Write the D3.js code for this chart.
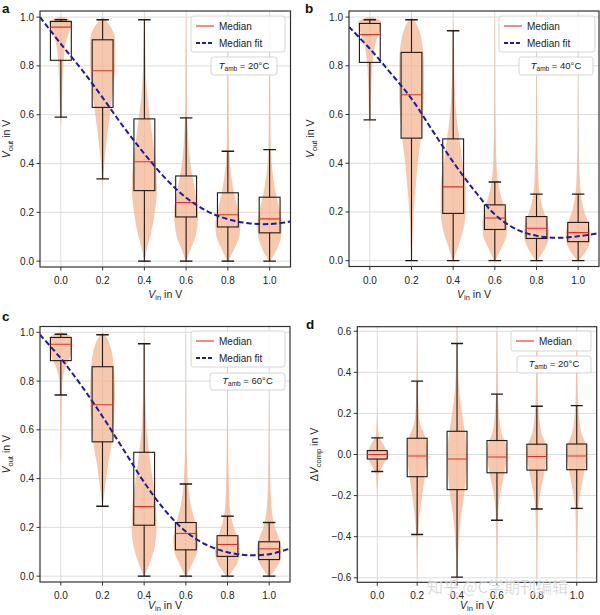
<!DOCTYPE html>
<html>
<head>
<meta charset="utf-8">
<script src="https://cdn.jsdelivr.net/npm/d3@7"></script>
<style>
  html, body { margin: 0; padding: 0; background: #fff; }
  svg { display: block; font-family: "Liberation Sans", Arial, Helvetica, sans-serif; }
</style>
</head>
<body>
<svg id="chart" width="600" height="615"></svg>
<script>
// ---------------- DATA ----------------
const categories = [0.0, 0.2, 0.4, 0.6, 0.8, 1.0];
const xTickLabels = ["0.0", "0.2", "0.4", "0.6", "0.8", "1.0"];
const yTicksVout = [0.0, 0.2, 0.4, 0.6, 0.8, 1.0];
const yTicksComp = [-0.6, -0.4, -0.2, 0.0, 0.2, 0.4, 0.6];
const panelLetters = ["a", "b", "c", "d"];
const panelTemps = ["20°C", "40°C", "60°C", "20°C"];
const legendLabels = ["Median", "Median fit"];

// box stats: [whisker low, q1, median, q3, whisker high]
const boxA = [[0.59, 0.823, 0.959, 0.982, 0.989], [0.337, 0.630, 0.780, 0.907, 0.989], [0.0, 0.289, 0.407, 0.583, 0.989],
              [0.0, 0.181, 0.240, 0.349, 0.587], [0.0, 0.140, 0.190, 0.280, 0.450], [0.0, 0.116, 0.173, 0.262, 0.457]];
const boxB = [[0.578, 0.814, 0.928, 0.974, 0.989], [0.0, 0.503, 0.681, 0.855, 0.989], [0.0, 0.194, 0.303, 0.500, 0.944],
              [0.0, 0.128, 0.175, 0.229, 0.323], [0.0, 0.091, 0.133, 0.181, 0.273], [0.0, 0.078, 0.115, 0.157, 0.273]];
const boxC = [[0.743, 0.884, 0.951, 0.979, 0.992], [0.287, 0.551, 0.703, 0.859, 0.990], [0.0, 0.209, 0.285, 0.508, 0.953],
              [0.0, 0.108, 0.175, 0.220, 0.378], [0.0, 0.081, 0.130, 0.166, 0.246], [0.0, 0.068, 0.112, 0.141, 0.220]];
const boxD = [[-0.083, -0.022, 0.0, 0.019, 0.081], [-0.389, -0.108, -0.007, 0.079, 0.357], [-0.597, -0.171, -0.022, 0.113, 0.540],
              [-0.320, -0.089, -0.012, 0.068, 0.294], [-0.265, -0.076, -0.010, 0.050, 0.235], [-0.262, -0.074, -0.007, 0.051, 0.238]];

// violin profiles: [value, half-width in x units]
const violinA = [
  [[0.55, 0.0], [0.6, 0.004], [0.7, 0.007], [0.8, 0.012], [0.9, 0.025], [0.95, 0.045], [0.98, 0.055], [1.0, 0.01]],
  [[0.30, 0.0], [0.4, 0.008], [0.5, 0.02], [0.6, 0.035], [0.7, 0.05], [0.8, 0.06], [0.9, 0.06], [0.95, 0.045], [0.99, 0.012], [1.0, 0.0]],
  [[0.0, 0.002], [0.05, 0.012], [0.1, 0.028], [0.2, 0.05], [0.3, 0.06], [0.4, 0.055], [0.5, 0.04], [0.6, 0.025], [0.7, 0.012], [0.8, 0.006], [0.9, 0.004], [1.0, 0.001]],
  [[0.0, 0.002], [0.05, 0.022], [0.1, 0.045], [0.2, 0.058], [0.3, 0.04], [0.4, 0.02], [0.5, 0.01], [0.6, 0.005], [0.8, 0.003], [1.0, 0.001]],
  [[0.0, 0.003], [0.05, 0.03], [0.1, 0.055], [0.15, 0.06], [0.2, 0.05], [0.3, 0.025], [0.4, 0.01], [0.5, 0.005], [0.7, 0.003], [0.97, 0.001]],
  [[0.0, 0.003], [0.05, 0.035], [0.1, 0.055], [0.15, 0.06], [0.2, 0.05], [0.3, 0.025], [0.4, 0.01], [0.5, 0.005], [0.7, 0.003], [0.97, 0.001]]
];
const violinB = [
  [[0.5, 0.0], [0.6, 0.004], [0.7, 0.007], [0.8, 0.012], [0.9, 0.03], [0.95, 0.05], [0.98, 0.055], [1.0, 0.01]],
  [[0.0, 0.002], [0.1, 0.005], [0.2, 0.01], [0.3, 0.02], [0.4, 0.03], [0.5, 0.045], [0.6, 0.055], [0.7, 0.06], [0.8, 0.06], [0.9, 0.05], [0.95, 0.035], [0.99, 0.01], [1.0, 0.0]],
  [[0.0, 0.003], [0.05, 0.02], [0.1, 0.04], [0.2, 0.06], [0.3, 0.06], [0.4, 0.045], [0.5, 0.03], [0.6, 0.015], [0.7, 0.008], [0.8, 0.005], [0.9, 0.003], [0.99, 0.001]],
  [[0.0, 0.003], [0.05, 0.03], [0.1, 0.055], [0.15, 0.06], [0.2, 0.05], [0.3, 0.02], [0.4, 0.008], [0.6, 0.003], [0.99, 0.001]],
  [[0.0, 0.004], [0.05, 0.04], [0.1, 0.06], [0.15, 0.055], [0.2, 0.035], [0.3, 0.012], [0.5, 0.004], [0.7, 0.002], [0.99, 0.0]],
  [[0.0, 0.004], [0.05, 0.045], [0.1, 0.06], [0.15, 0.05], [0.2, 0.03], [0.3, 0.01], [0.5, 0.003], [0.99, 0.0]]
];
const violinC = [
  [[0.45, 0.0], [0.5, 0.002], [0.7, 0.004], [0.8, 0.008], [0.85, 0.02], [0.9, 0.045], [0.95, 0.055], [0.98, 0.05], [1.0, 0.008]],
  [[0.28, 0.0], [0.35, 0.01], [0.45, 0.025], [0.55, 0.045], [0.65, 0.055], [0.75, 0.06], [0.85, 0.055], [0.95, 0.035], [0.99, 0.01], [1.0, 0.0]],
  [[0.0, 0.003], [0.05, 0.025], [0.1, 0.045], [0.2, 0.06], [0.3, 0.055], [0.4, 0.04], [0.5, 0.025], [0.6, 0.012], [0.7, 0.007], [0.8, 0.004], [0.9, 0.003], [0.98, 0.001]],
  [[0.0, 0.003], [0.05, 0.03], [0.1, 0.055], [0.15, 0.06], [0.2, 0.05], [0.3, 0.022], [0.4, 0.009], [0.6, 0.003], [0.99, 0.001]],
  [[0.0, 0.004], [0.05, 0.045], [0.1, 0.06], [0.15, 0.05], [0.2, 0.03], [0.3, 0.01], [0.5, 0.004], [0.7, 0.002], [0.99, 0.0]],
  [[0.0, 0.004], [0.05, 0.045], [0.1, 0.06], [0.15, 0.05], [0.2, 0.028], [0.3, 0.01], [0.5, 0.003], [0.99, 0.0]]
];
const violinD = [
  [[-0.25, 0.0], [-0.1, 0.006], [-0.05, 0.03], [0.0, 0.052], [0.05, 0.03], [0.1, 0.006], [0.25, 0.0]],
  [[-0.6, 0.001], [-0.4, 0.005], [-0.3, 0.012], [-0.2, 0.025], [-0.1, 0.04], [0.0, 0.05], [0.05, 0.05], [0.1, 0.035], [0.15, 0.015], [0.25, 0.006], [0.4, 0.003], [0.6, 0.001]],
  [[-0.62, 0.002], [-0.4, 0.01], [-0.3, 0.02], [-0.2, 0.035], [-0.1, 0.045], [0.0, 0.05], [0.1, 0.04], [0.2, 0.025], [0.3, 0.012], [0.4, 0.006], [0.62, 0.002]],
  [[-0.6, 0.002], [-0.3, 0.006], [-0.2, 0.015], [-0.1, 0.035], [0.0, 0.05], [0.05, 0.045], [0.1, 0.025], [0.2, 0.01], [0.3, 0.005], [0.6, 0.002]],
  [[-0.6, 0.002], [-0.3, 0.006], [-0.2, 0.015], [-0.1, 0.035], [0.0, 0.05], [0.05, 0.045], [0.1, 0.025], [0.2, 0.01], [0.3, 0.005], [0.6, 0.002]],
  [[-0.6, 0.002], [-0.3, 0.006], [-0.2, 0.015], [-0.1, 0.035], [0.0, 0.05], [0.05, 0.045], [0.1, 0.025], [0.2, 0.01], [0.3, 0.005], [0.6, 0.002]]
];

// median fit curves
const fitX = [-0.1, 0.0, 0.1, 0.2, 0.3, 0.4, 0.5, 0.6, 0.7, 0.8, 0.9, 1.0, 1.1];
const fitA = [1.0, 0.89, 0.785, 0.67, 0.55, 0.44, 0.34, 0.26, 0.205, 0.172, 0.155, 0.152, 0.162];
const fitB = [0.96, 0.87, 0.77, 0.665, 0.535, 0.405, 0.29, 0.19, 0.13, 0.102, 0.094, 0.10, 0.113];
const fitC = [0.99, 0.893, 0.78, 0.655, 0.52, 0.385, 0.27, 0.183, 0.128, 0.098, 0.086, 0.09, 0.113];

// ---------------- DRAW ----------------
const svg = d3.select("#chart");
const violinColor = "#f2b48f";
const boxColor = "#231812";
const medianColor = "#e0302a";
const fitColor = "#1c1c9c";
const gridColor = "#dcdcdc";
const fmt = v => d3.format(".1f")(v).replace("-", "\u2212");

const panels = [
  { box: boxA, vio: violinA, fit: fitA, left: 40, right: 290.5, top: 11, bottom: 267, ydom: [-0.024, 1.025], yt: yTicksVout, ylab: "out",
    letter: [2, 12.5], legend: [191, 16, 94, 36], tamb: [211, 57, 66, 18], xlY: 298, ylX: 10 },
  { box: boxB, vio: violinB, fit: fitB, left: 349, right: 599, top: 11, bottom: 266.5, ydom: [-0.024, 1.025], yt: yTicksVout, ylab: "out",
    letter: [305, 12.5], legend: [499, 16, 96, 36], tamb: [519, 57, 74, 18], xlY: 298, ylX: 314 },
  { box: boxC, vio: violinC, fit: fitC, left: 40, right: 290, top: 326.5, bottom: 582, ydom: [-0.024, 1.024], yt: yTicksVout, ylab: "out",
    letter: [2, 321], legend: [191, 331, 94, 36], tamb: [210, 373, 75, 17], xlY: 609, ylX: 10 },
  { box: boxD, vio: violinD, fit: null, left: 357.3, right: 596.7, top: 326.7, bottom: 582.3, ydom: [-0.622, 0.622], yt: yTicksComp, ylab: "comp",
    letter: [306, 329], legend: [511, 331, 80, 20], tamb: [517, 356, 74, 17], xlY: 609, ylX: 318 }
];

panels.forEach((p, i) => {
  const g = svg.append("g");
  const x = d3.scaleLinear().domain([-0.1, 1.1]).range([p.left, p.right]);
  const y = d3.scaleLinear().domain(p.ydom).range([p.bottom, p.top]);
  const clipId = "clip" + i;
  svg.append("clipPath").attr("id", clipId).append("rect")
    .attr("x", p.left).attr("y", p.top).attr("width", p.right - p.left).attr("height", p.bottom - p.top);

  // grid
  const grid = g.append("g").attr("stroke", gridColor).attr("stroke-width", 1);
  categories.forEach(c => grid.append("line").attr("x1", x(c)).attr("x2", x(c)).attr("y1", p.top).attr("y2", p.bottom));
  p.yt.forEach(t => grid.append("line").attr("x1", p.left).attr("x2", p.right).attr("y1", y(t)).attr("y2", y(t)));

  const plot = g.append("g").attr("clip-path", `url(#${clipId})`);

  // violins
  categories.forEach((c, j) => {
    const area = d3.area()
      .y(d => y(d[0]))
      .x0(d => x(c - d[1]))
      .x1(d => x(c + d[1]))
      .curve(d3.curveMonotoneY);
    plot.append("path").attr("d", area(p.vio[j]))
      .attr("fill", violinColor).attr("fill-opacity", 0.72).attr("stroke", "none");
  });

  // boxes
  const bw = 0.1, cw = 0.06;
  categories.forEach((c, j) => {
    const [lo, q1, med, q3, hi] = p.box[j];
    const bg = plot.append("g").attr("stroke", boxColor).attr("stroke-width", 1.1).attr("fill", "none");
    bg.append("line").attr("x1", x(c)).attr("x2", x(c)).attr("y1", y(q1)).attr("y2", y(lo));
    bg.append("line").attr("x1", x(c)).attr("x2", x(c)).attr("y1", y(q3)).attr("y2", y(hi));
    bg.append("line").attr("x1", x(c - cw / 2)).attr("x2", x(c + cw / 2)).attr("y1", y(lo)).attr("y2", y(lo)).attr("stroke-width", 1.4);
    bg.append("line").attr("x1", x(c - cw / 2)).attr("x2", x(c + cw / 2)).attr("y1", y(hi)).attr("y2", y(hi)).attr("stroke-width", 1.4);
    bg.append("rect").attr("x", x(c - bw / 2)).attr("y", y(q3)).attr("width", x(c + bw / 2) - x(c - bw / 2)).attr("height", y(q1) - y(q3));
    plot.append("line").attr("x1", x(c - bw / 2)).attr("x2", x(c + bw / 2)).attr("y1", y(med)).attr("y2", y(med))
      .attr("stroke", medianColor).attr("stroke-width", 1.1);
  });

  // fit
  if (p.fit) {
    const line = d3.line().x(d => x(d[0])).y(d => y(d[1])).curve(d3.curveCatmullRom);
    plot.append("path").attr("d", line(fitX.map((v, k) => [v, p.fit[k]])))
      .attr("fill", "none").attr("stroke", fitColor).attr("stroke-width", 2).attr("stroke-dasharray", "5.5,2.8");
  }

  // spines
  g.append("rect").attr("x", p.left).attr("y", p.top).attr("width", p.right - p.left).attr("height", p.bottom - p.top)
    .attr("fill", "none").attr("stroke", "#333").attr("stroke-width", 1.2);

  // ticks
  const ticks = g.append("g").attr("font-size", 10).attr("fill", "#222");
  categories.forEach((c, j) => {
    ticks.append("line").attr("x1", x(c)).attr("x2", x(c)).attr("y1", p.bottom).attr("y2", p.bottom + 3.5).attr("stroke", "#333");
    ticks.append("text").attr("x", x(c)).attr("y", p.bottom + 17).attr("text-anchor", "middle").text(xTickLabels[j]);
  });
  p.yt.forEach(t => {
    ticks.append("line").attr("x1", p.left - 3.5).attr("x2", p.left).attr("y1", y(t)).attr("y2", y(t)).attr("stroke", "#333");
    ticks.append("text").attr("x", p.left - 6).attr("y", y(t)).attr("dy", "0.35em").attr("text-anchor", "end").text(fmt(t));
  });

  // x label
  const xl = g.append("text").attr("x", (p.left + p.right) / 2).attr("y", p.xlY).attr("text-anchor", "middle")
    .attr("font-size", 10.5).attr("fill", "#222");
  xl.append("tspan").attr("font-style", "italic").text("V");
  xl.append("tspan").attr("font-size", 7.5).attr("dy", 2.2).text("in");
  xl.append("tspan").attr("dy", -2.2).text(" in V");

  // y label
  const yc = (p.top + p.bottom) / 2;
  const yl = g.append("text").attr("transform", `translate(${p.ylX},${yc}) rotate(-90)`).attr("text-anchor", "middle")
    .attr("font-size", 10.5).attr("fill", "#222");
  if (p.ylab === "comp") yl.append("tspan").text("\u0394");
  yl.append("tspan").attr("font-style", "italic").text("V");
  yl.append("tspan").attr("font-size", 7.5).attr("dy", 2.5).text(p.ylab);
  yl.append("tspan").attr("dy", -2.5).text(" in V");

  // panel letter
  g.append("text").attr("x", p.letter[0]).attr("y", p.letter[1]).attr("font-size", 13.5).attr("font-weight", "bold")
    .attr("fill", "#111").text(panelLetters[i]);

  // legend
  const [lx, ly, lw, lh] = p.legend;
  g.append("rect").attr("x", lx).attr("y", ly).attr("width", lw).attr("height", lh).attr("rx", 2.5)
    .attr("fill", "#fff").attr("fill-opacity", 0.85).attr("stroke", "#d0d0d0").attr("stroke-width", 0.9);
  const rowY = [ly + 10, ly + 27];
  g.append("line").attr("x1", lx + 5).attr("x2", lx + 23).attr("y1", rowY[0]).attr("y2", rowY[0])
    .attr("stroke", medianColor).attr("stroke-width", 1.1);
  g.append("text").attr("x", lx + 28).attr("y", rowY[0]).attr("dy", "0.35em").attr("font-size", 10).attr("fill", "#222").text(legendLabels[0]);
  if (p.fit) {
    g.append("line").attr("x1", lx + 5).attr("x2", lx + 23).attr("y1", rowY[1]).attr("y2", rowY[1])
      .attr("stroke", fitColor).attr("stroke-width", 2).attr("stroke-dasharray", "4,2");
    g.append("text").attr("x", lx + 28).attr("y", rowY[1]).attr("dy", "0.35em").attr("font-size", 10).attr("fill", "#222").text(legendLabels[1]);
  }

  // T_amb box
  const [tx, ty, tw, th] = p.tamb;
  g.append("rect").attr("x", tx).attr("y", ty).attr("width", tw).attr("height", th).attr("rx", 2.5)
    .attr("fill", "#fff").attr("fill-opacity", 0.85).attr("stroke", "#d0d0d0").attr("stroke-width", 0.9);
  const tt = g.append("text").attr("x", tx + tw / 2).attr("y", ty + th / 2).attr("dy", "0.3em").attr("text-anchor", "middle")
    .attr("font-size", 9.5).attr("fill", "#222");
  tt.append("tspan").attr("font-style", "italic").text("T");
  tt.append("tspan").attr("font-size", 6.5).attr("dy", 2).text("amb");
  tt.append("tspan").attr("dy", -2).text(" = " + panelTemps[i]);
});

// watermark
svg.append("text").attr("x", 427).attr("y", 593).attr("font-size", 16)
  .attr("font-family", "Noto Sans CJK SC").attr("fill", "#bbb").attr("fill-opacity", 0.75)
  .attr("stroke", "#fff").attr("stroke-width", 0.6).attr("stroke-opacity", 0.6)
  .text("知乎 @C学期刊编辑");
</script>
</body>
</html>
